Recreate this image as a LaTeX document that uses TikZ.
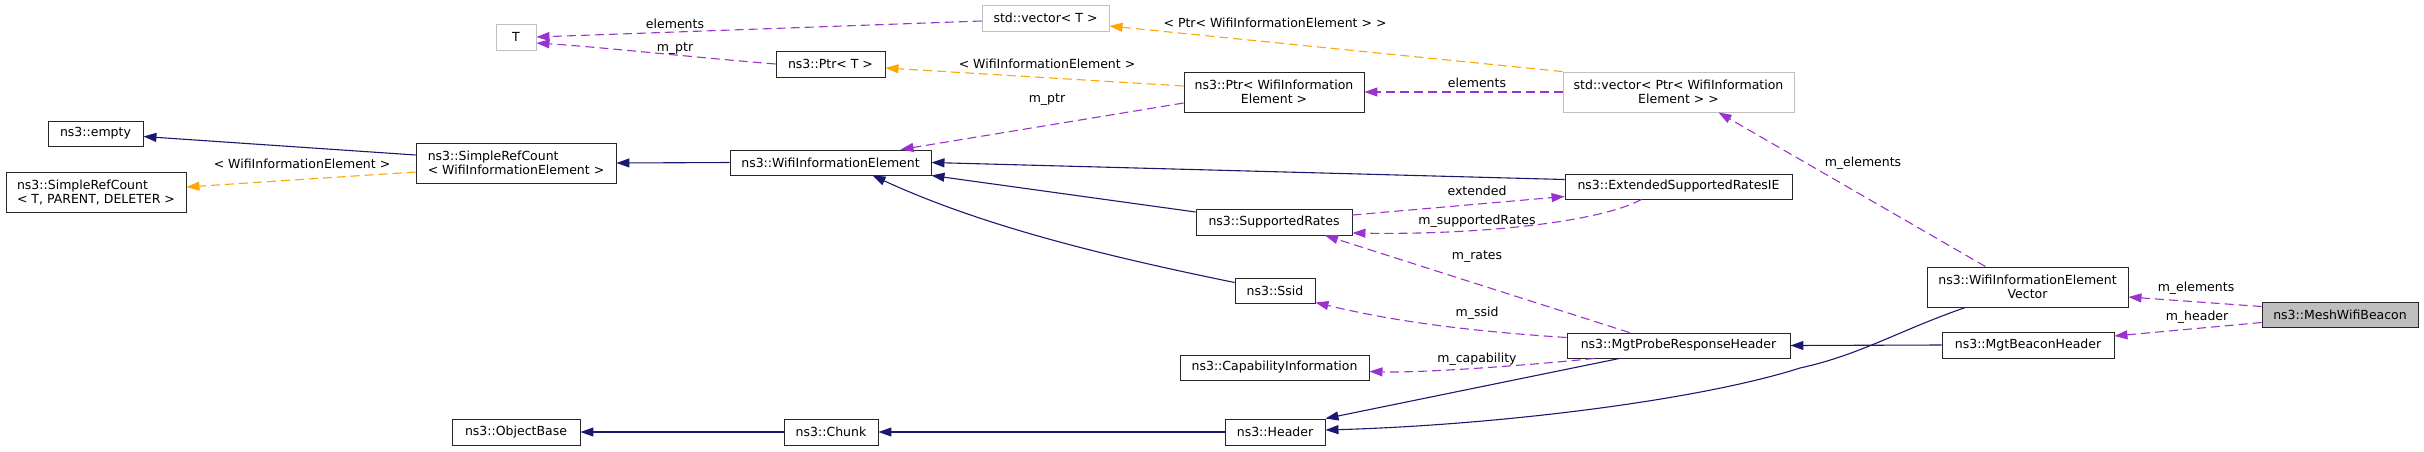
\documentclass[tikz,border=0pt]{standalone}
\usepackage{fontspec}
\setmainfont{DejaVu Sans}
\usepackage{xcolor}
\usepackage{tikz}
\usetikzlibrary{arrows.meta}

\definecolor{inhblue}{HTML}{191970}
\definecolor{usepurple}{HTML}{9A32CD}
\definecolor{tplorange}{HTML}{FFA500}
\definecolor{tplgray}{HTML}{BFBFBF}

\begin{document}
\begin{tikzpicture}[
    x={(1pt,0)}, y={(0,-1pt)},
    >={Triangle[length=13pt, width=9pt]},
    font=\fontsize{12.5}{14}\selectfont,
    sz/.style 2 args={minimum width=#1, minimum height=#2},
    cls/.style={
        rectangle, draw=black!85, line width=0.9pt,
        fill=white, inner sep=0pt, align=center
    },
    tpl/.style={cls, draw=tplgray},
    focus/.style={cls, fill=tplgray},
    inh/.style={->, draw=inhblue, line width=1.1pt},
    usage/.style={->, draw=usepurple, line width=1.1pt, dash pattern=on 9pt off 5pt},
    inst/.style={->, draw=tplorange, line width=1.1pt, dash pattern=on 9pt off 5pt},
    lbl/.style={inner sep=1pt}
]
    \useasboundingbox (0,0) rectangle (2424,451);

    % Base classes and templates
    \node [cls, sz={95}{25}] (empty) at (95.5,133.5) {ns3::empty};
    \node [cls, sz={180}{40}, align=left] (srcTPD) at (96,192) {ns3::SimpleRefCount\\< T, PARENT, DELETER >};
    \node [tpl, sz={40}{26}] (T) at (516,37) {T};
    \node [cls, sz={200}{40}, align=left] (srcWIE) at (516,163) {ns3::SimpleRefCount\\< WifiInformationElement >};
    \node [cls, sz={128}{26}] (objbase) at (516,432) {ns3::ObjectBase};
    \node [tpl, sz={127}{26}] (vecT) at (1045.5,18) {std::vector< T >};
    \node [cls, sz={109}{26}] (ptrT) at (830.5,64) {ns3::Ptr< T >};
    \node [cls, sz={201}{25}] (wie) at (830.5,162.5) {ns3::WifiInformationElement};
    \node [cls, sz={94}{26}] (chunk) at (831,432) {ns3::Chunk};

    % Information elements and headers
    \node [cls, sz={180}{40}] (ptrWIE) at (1274,92) {ns3::Ptr< WifiInformation\\Element >};
    \node [cls, sz={156}{26}] (sr) at (1274,222) {ns3::SupportedRates};
    \node [cls, sz={80}{25}] (ssid) at (1275,290.5) {ns3::Ssid};
    \node [cls, sz={189}{25}] (cap) at (1274.5,367.5) {ns3::CapabilityInformation};
    \node [cls, sz={100}{26}] (header) at (1275,432) {ns3::Header};
    \node [tpl, sz={231}{40}] (vecPtr) at (1678.5,92) {std::vector< Ptr< WifiInformation\\Element > >};
    \node [cls, sz={227}{25}] (esr) at (1678.5,186.5) {ns3::ExtendedSupportedRatesIE};
    \node [cls, sz={223}{25}] (mprh) at (1678.5,345.5) {ns3::MgtProbeResponseHeader};
    \node [cls, sz={201}{40}] (wiev) at (2027.5,287) {ns3::WifiInformationElement\\Vector};
    \node [cls, sz={172}{26}] (mbh) at (2028,345) {ns3::MgtBeaconHeader};

    % Documented class
    \node [focus, sz={156}{25}] (mesh) at (2340,314.5) {ns3::MeshWifiBeacon};

    % Inheritance
    \draw [inh] ([yshift=8pt]srcWIE.west) -- ([yshift=-3pt]empty.east);
    \draw [inh] (wie.west) -- (srcWIE.east);
    \draw [inh] ([yshift=7pt]esr.west) -- (wie.east);
    \draw [inh] ([yshift=10pt]sr.west) -- (wie.south east);
    \draw [inh] ([yshift=8pt]ssid.west) .. controls (1100,255) and (980,225) .. ([xshift=42pt]wie.south);
    \draw [inh] (chunk.west) -- (objbase.east);
    \draw [inh] (header.west) -- (chunk.east);
    \draw [inh] ([xshift=-59pt]mprh.south) -- (header.north east);
    \draw [inh] ([xshift=-62pt]wiev.south) .. controls (1900,330) and (1860,355) .. (1800,368)
        .. controls (1700,400) and (1500,425) .. ([yshift=2pt]header.east);
    \draw [inh] (mbh.west) -- (mprh.east);

    % Template instances
    \draw [inst] ([yshift=-9pt]srcWIE.west) -- ([yshift=5pt]srcTPD.east)
        node [lbl] at (302,164) {< WifiInformationElement >};
    \draw [inst] ([yshift=6pt]ptrWIE.west) -- ([yshift=-4pt]ptrT.east)
        node [lbl] at (1047,64) {< WifiInformationElement >};
    \draw [inst] (vecPtr.north west) -- ([yshift=-8pt]vecT.east)
        node [lbl] at (1275,23) {< Ptr< WifiInformationElement > >};

    % Members
    \draw [usage] (ptrT.west) .. controls (690,57) and (600,47) .. ([yshift=-6pt]T.east)
        node [lbl] at (675,49) {m\_ptr};
    \draw [usage] ([yshift=-3pt]vecT.west) -- (T.east)
        node [lbl] at (675,24) {elements};
    \draw [usage] ([yshift=-11pt]ptrWIE.west) -- ([xshift=70pt]wie.north)
        node [lbl] at (1047,100) {m\_ptr};
    \draw [usage] (vecPtr.west) -- (ptrWIE.east)
        node [lbl] at (1477,83) {elements};
    \draw [usage] ([yshift=7pt]sr.east) -- ([yshift=-10pt]esr.west)
        node [lbl] at (1477,191) {extended};
    \draw [usage] ([xshift=-37pt]esr.south) .. controls (1600,222) and (1480,235) .. ([yshift=-11pt]sr.east)
        node [lbl] at (1477,221) {m\_supportedRates};
    \draw [usage] ([xshift=-49pt]mprh.north) -- ([xshift=51pt]sr.south)
        node [lbl] at (1477,257) {m\_rates};
    \draw [usage] ([yshift=8pt]mprh.west) .. controls (1450,330) and (1380,318) .. ([yshift=-12pt]ssid.east)
        node [lbl] at (1477,313) {m\_ssid};
    \draw [usage] ([xshift=-84pt]mprh.south) .. controls (1520,366) and (1420,373) .. ([yshift=-4pt]cap.east)
        node [lbl] at (1477,359) {m\_capability};
    \draw [usage] ([xshift=-42pt]wiev.north) -- ([xshift=40pt]vecPtr.south)
        node [lbl] at (1863,163) {m\_elements};
    \draw [usage] ([yshift=8pt]mesh.west) -- ([yshift=-10pt]wiev.east)
        node [lbl] at (2196,288) {m\_elements};
    \draw [usage] ([yshift=-8pt]mesh.west) -- ([yshift=9pt]mbh.east)
        node [lbl] at (2197,317) {m\_header};

\end{tikzpicture}
\end{document}
